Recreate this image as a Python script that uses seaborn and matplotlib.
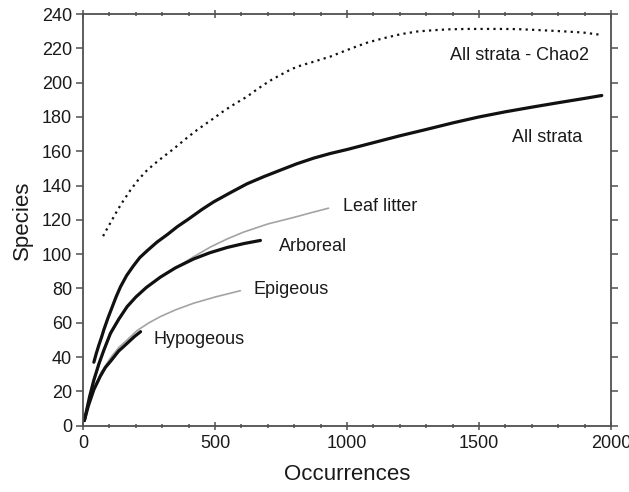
import matplotlib
matplotlib.use("Agg")
import matplotlib.pyplot as plt
import seaborn as sns
import pandas as pd
from matplotlib.ticker import MultipleLocator

# ---- data ----
chao_x = [76, 90, 110, 130, 150, 180, 210, 243, 275, 306, 340, 369, 400, 432, 465, 495,
          525, 558, 590, 621, 652, 684, 716, 748, 780, 811, 843, 874, 905, 937, 970,
          1000, 1040, 1080, 1139, 1202, 1265, 1330, 1391, 1455, 1517, 1580, 1643,
          1705, 1769, 1830, 1895, 1965]
chao_y = [110.5, 114.5, 120, 125.5, 130.5, 137.4, 143.5, 149, 153.2, 157, 161, 164.7,
          168.6, 172.4, 176, 179.2, 182.6, 186, 189, 191.8, 195.3, 198.7, 201.8, 204.5,
          207.1, 209.3, 210.8, 212.2, 213.7, 215.2, 217.2, 219, 221.3, 223.5, 225.9,
          228.2, 229.8, 230.6, 231.1, 231.3, 231.3, 231.3, 231.2, 230.8, 230.3, 229.8,
          229.2, 227.8]

all_x = [41, 50, 60, 70, 79, 95, 110, 125, 142, 165, 190, 215, 243, 280, 320, 357, 400,
         450, 495, 560, 621, 685, 748, 810, 874, 937, 1000, 1100, 1200, 1300, 1400, 1500,
         1600, 1700, 1800, 1900, 1965]
all_y = [37, 42, 47, 51.5, 56, 63, 69, 75, 81, 87.5, 93, 98, 102, 107, 111.5, 116, 120.5,
         126, 130.5, 136, 141, 145.2, 149, 152.7, 156, 158.7, 161, 165, 169, 172.7, 176.5,
         180, 183, 185.7, 188.3, 190.8, 192.5]

leaf_x = [5, 20, 41, 70, 104, 135, 167, 200, 240, 293, 357, 420, 483, 545, 607, 700, 798,
          865, 930]
leaf_y = [3, 13, 25.5, 40, 53, 61.5, 69, 74.8, 80.3, 86.6, 92.6, 98.6, 104.2, 108.8, 112.8,
          117.6, 121.4, 124.2, 126.8]

arb_x = [5, 15, 25, 41, 60, 80, 104, 135, 167, 200, 240, 293, 350, 419, 480, 546, 610, 672]
arb_y = [3, 10, 17, 26.6, 36, 44.5, 53.9, 62, 69.4, 75, 80.6, 86.6, 92, 97.2, 100.8, 103.9,
         106.2, 108]

epi_x = [5, 20, 41, 70, 104, 135, 167, 205, 250, 293, 350, 419, 500, 596]
epi_y = [3, 12, 22, 31.5, 39.5, 45.5, 50, 55.5, 60, 63.6, 67.5, 71.4, 75, 78.7]

hypo_x = [5, 20, 41, 66, 85, 104, 135, 167, 195, 218]
hypo_y = [3, 11.5, 21, 29, 34, 37.5, 43.5, 48, 52, 54.8]

labels = ["All strata - Chao2", "All strata", "Leaf litter", "Arboreal", "Epigeous", "Hypogeous"]
label_x = [1391, 1625, 986, 741, 646, 268]
label_y = [216, 168, 127.5, 104.4, 79.5, 50]

x_ticks = [0, 500, 1000, 1500, 2000]
y_ticks = list(range(0, 241, 20))

# ---- figure ----
sns.set_theme(style="white")
plt.rcParams["font.family"] = ["Liberation Sans", "DejaVu Sans"]

fig = plt.figure(figsize=(6.29, 4.92), dpi=100)
ax = fig.add_axes([0.132, 0.1348, 0.9714 - 0.132, 0.9715 - 0.1348])

def df(x, y):
    return pd.DataFrame({"x": x, "y": y})

grey = "#a3a3a3"
black = "#111111"
kw = dict(x="x", y="y", ax=ax, sort=False, estimator=None)
# grey lines first, black on top
sns.lineplot(data=df(leaf_x, leaf_y), color=grey, lw=1.2, **kw)
sns.lineplot(data=df(epi_x, epi_y), color=grey, lw=1.2, **kw)
sns.lineplot(data=df(arb_x, arb_y), color=black, lw=2.3, **kw)
sns.lineplot(data=df(hypo_x, hypo_y), color=black, lw=2.3, **kw)
sns.lineplot(data=df(all_x, all_y), color=black, lw=2.3, **kw)
sns.lineplot(data=df(chao_x, chao_y), color=black, lw=1.6,
             linestyle=(0, (1, 1.9)), **kw)

for t, lx, ly in zip(labels, label_x, label_y):
    ax.text(lx, ly, t, fontsize=13, color="#1a1a1a", ha="left", va="center")

ax.set_xlim(0, 2000)
ax.set_ylim(0, 240)
ax.set_xticks(x_ticks)
ax.set_yticks(y_ticks)
ax.xaxis.set_minor_locator(MultipleLocator(100))

spine_c = "#505050"
for s in ax.spines.values():
    s.set_color(spine_c)
    s.set_linewidth(1.3)
    s.set_visible(True)

ax.tick_params(axis="x", which="major", direction="inout", length=6, width=1.1,
               color=spine_c, top=True, bottom=True, labelsize=13, pad=4,
               labelcolor="#1a1a1a")
ax.tick_params(axis="x", which="minor", direction="inout", length=3, width=1.1,
               color=spine_c, top=True, bottom=True)
ax.tick_params(axis="y", which="major", direction="out", length=5, width=1.1,
               color=spine_c, left=True, right=True, labelsize=13, pad=3,
               labelcolor="#1a1a1a")

ax.set_xlabel("Occurrences", fontsize=16, color="#1a1a1a", labelpad=8)
ax.set_ylabel("Species", fontsize=16, color="#1a1a1a", labelpad=6)
ax.grid(False)

fig.savefig("out.png", dpi=100)
